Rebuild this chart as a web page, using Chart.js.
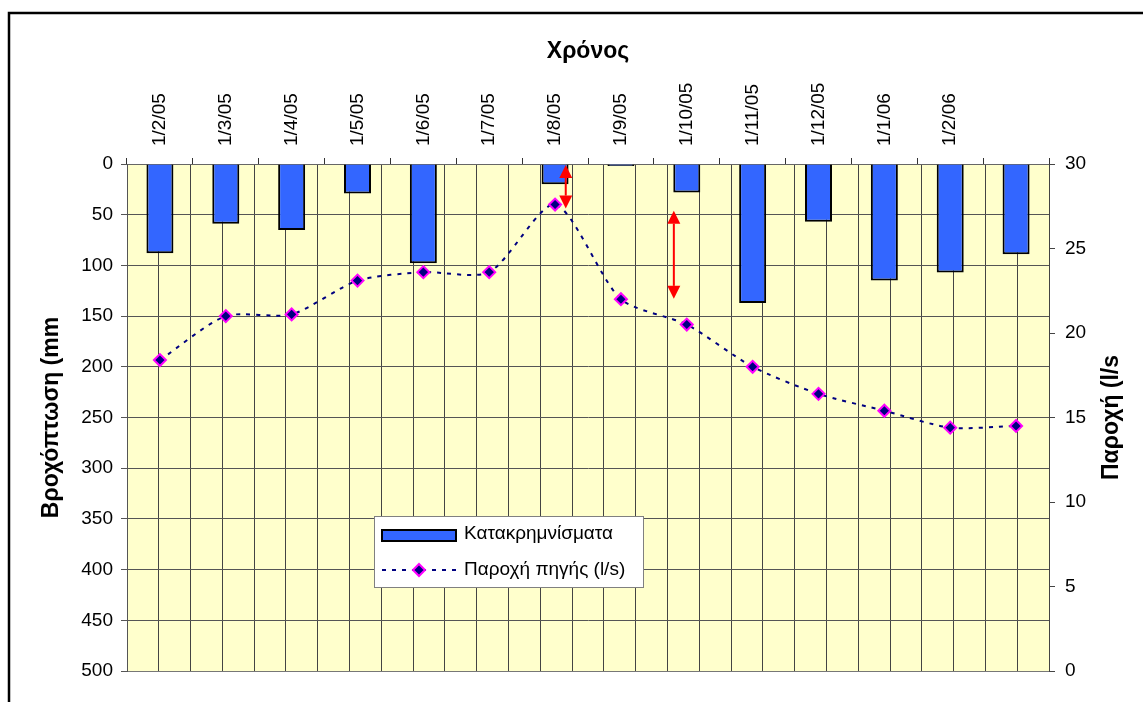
<!DOCTYPE html>
<html>
<head>
  <title>Βροχόπτωση - Παροχή</title>
  <script src="https://cdn.jsdelivr.net/npm/chart.js"></script>
  <style>body { margin: 0; background: #fff; }</style>
</head>
<body>
  <canvas id="chart" width="1143" height="702"></canvas>

  <script>
const months = ['1/2/05', '1/3/05', '1/4/05', '1/5/05', '1/6/05', '1/7/05', '1/8/05',
                '1/9/05', '1/10/05', '1/11/05', '1/12/05', '1/1/06', '1/2/06', ''];
const rainfall = [88, 59, 65, 29, 98, 0, 20, 2, 28, 137, 57, 115, 107, 89];      // mm
const discharge = [18.4, 21.0, 21.1, 23.1, 23.6, 23.6, 27.6, 22.0, 20.5, 18.0, 16.4, 15.4, 14.4, 14.5]; // l/s

// red double arrows: x in category units, from/to in mm
const arrowAt = [6.15, 7.85];
const arrowFrom = [1, 46];
const arrowTo = [44, 133];

const rainLabel = 'Κατακρημνίσματα';
const flowLabel = 'Παροχή πηγής (l/s)';

Chart.defaults.font.family = '"Liberation Sans", Arial, sans-serif';
Chart.defaults.font.size = 19;
Chart.defaults.color = '#000';

// half-category grid positions
const halfSteps = [];
for (let i = 0; i <= months.length * 2; i++) halfSteps.push(-0.5 + i * 0.5);

function diamond(ctx, x, y, r) {
  ctx.beginPath();
  ctx.moveTo(x, y - r);
  ctx.lineTo(x + r, y);
  ctx.lineTo(x, y + r);
  ctx.lineTo(x - r, y);
  ctx.closePath();
  ctx.fillStyle = '#000080';
  ctx.fill();
  ctx.lineWidth = 2;
  ctx.strokeStyle = '#FF00FF';
  ctx.stroke();
}

const extras = {
  id: 'extras',
  beforeDraw(chart) {
    const { ctx, chartArea: a } = chart;
    ctx.save();
    ctx.fillStyle = '#FFFFCC';
    ctx.fillRect(a.left, a.top, a.right - a.left, a.bottom - a.top);
    ctx.strokeStyle = '#000';
    ctx.lineWidth = 2.5;
    ctx.strokeRect(9, 13, chart.width + 20, chart.height + 20);
    ctx.restore();
  },
  afterDatasetsDraw(chart) {
    const { ctx } = chart;
    const xs = chart.scales.xg, ys = chart.scales.y;
    ctx.save();
    ctx.strokeStyle = ctx.fillStyle = '#FF0000';
    ctx.lineWidth = 2;
    arrowAt.forEach((c, i) => {
      const px = xs.getPixelForValue(c);
      const y0 = ys.getPixelForValue(arrowFrom[i]);
      const y1 = ys.getPixelForValue(arrowTo[i]);
      const hw = 6.5, hl = 13;
      ctx.beginPath();
      ctx.moveTo(px, y0 + hl);
      ctx.lineTo(px, y1 - hl);
      ctx.stroke();
      ctx.beginPath();
      ctx.moveTo(px, y0);
      ctx.lineTo(px + hw, y0 + hl);
      ctx.lineTo(px - hw, y0 + hl);
      ctx.closePath();
      ctx.fill();
      ctx.beginPath();
      ctx.moveTo(px, y1);
      ctx.lineTo(px + hw, y1 - hl);
      ctx.lineTo(px - hw, y1 - hl);
      ctx.closePath();
      ctx.fill();
    });
    ctx.restore();
  },
  afterDraw(chart) {
    const { ctx, chartArea: a } = chart;
    ctx.save();

    // legend box
    const lx = a.left + 247, ly = a.top + 352, lw = 269, lh = 71;
    ctx.fillStyle = '#fff';
    ctx.fillRect(lx, ly, lw, lh);
    ctx.strokeStyle = '#808080';
    ctx.lineWidth = 1;
    ctx.strokeRect(lx + 0.5, ly + 0.5, lw, lh);

    ctx.fillStyle = '#3366FF';
    ctx.fillRect(lx + 8, ly + 14, 74, 11);
    ctx.strokeStyle = '#000';
    ctx.lineWidth = 2;
    ctx.strokeRect(lx + 8, ly + 14, 74, 11);

    ctx.beginPath();
    ctx.setLineDash([4, 6]);
    ctx.strokeStyle = '#000080';
    ctx.moveTo(lx + 8, ly + 54);
    ctx.lineTo(lx + 82, ly + 54);
    ctx.stroke();
    ctx.setLineDash([]);
    diamond(ctx, lx + 45, ly + 54, 6);

    ctx.fillStyle = '#000';
    ctx.font = '19px "Liberation Sans", Arial, sans-serif';
    ctx.textBaseline = 'middle';
    ctx.textAlign = 'left';
    ctx.fillText(rainLabel, lx + 90, ly + 18);
    ctx.fillText(flowLabel, lx + 90, ly + 54);

    // right axis title, reading upwards
    ctx.translate(1112, (a.top + a.bottom) / 2);
    ctx.rotate(-Math.PI / 2);
    ctx.font = 'bold 23px "Liberation Sans", Arial, sans-serif';
    ctx.textAlign = 'center';
    ctx.fillText('Παροχή (l/s', 0, 0);
    ctx.restore();
  }
};

new Chart(document.getElementById('chart'), {
  type: 'bar',
  data: {
    labels: months,
    datasets: [
      {
        type: 'line',
        label: flowLabel,
        data: discharge,
        xAxisID: 'x',
        yAxisID: 'y1',
        order: 0,
        borderColor: '#000080',
        borderWidth: 2,
        borderDash: [4, 6],
        tension: 0.25,
        pointStyle: 'rectRot',
        pointRadius: 6,
        pointBackgroundColor: '#000080',
        pointBorderColor: '#FF00FF',
        pointBorderWidth: 2
      },
      {
        label: rainLabel,
        data: rainfall,
        xAxisID: 'x',
        yAxisID: 'y',
        order: 1,
        backgroundColor: '#3366FF',
        borderColor: '#000',
        borderWidth: 2,
        barPercentage: 0.41,
        categoryPercentage: 1
      }
    ]
  },
  options: {
    responsive: false,
    animation: false,
    layout: { padding: 0 },
    plugins: {
      legend: { display: false },
      tooltip: { enabled: false }
    },
    scales: {
      x: {
        type: 'category',
        position: 'top',
        offset: true,
        grid: { offset: true, drawOnChartArea: false, tickLength: 6, color: '#333' },
        border: { color: '#666' },
        // rotated top labels are pushed left by one line height; put them back on the bar
        ticks: { minRotation: 90, maxRotation: 90, padding: 12, autoSkip: false, labelOffset: 22.8 },
        title: {
          display: true, text: 'Χρόνος',
          font: { size: 23, weight: 'bold' },
          padding: { top: 38, bottom: 0 }
        },
        afterFit(s) { s.height = 164; }
      },
      xg: {
        type: 'linear',
        position: 'bottom',
        min: -0.5,
        max: months.length - 0.5,
        afterBuildTicks(s) { s.ticks = halfSteps.map(v => ({ value: v })); },
        ticks: { display: false },
        grid: { color: '#444', drawTicks: false },
        border: { color: '#777' },
        afterFit(s) { s.height = 31; }
      },
      y: {
        position: 'left',
        reverse: true,
        min: 0,
        max: 500,
        ticks: { stepSize: 50, padding: 8 },
        grid: { color: '#555', tickLength: 6 },
        border: { color: '#555' },
        title: {
          display: true, text: 'Βροχόπτωση (mm',
          font: { size: 23, weight: 'bold' },
          padding: { top: 38, bottom: 0 }
        },
        afterFit(s) { s.width = 127; }
      },
      y1: {
        position: 'right',
        min: 0,
        max: 30,
        ticks: { stepSize: 5, padding: 10 },
        grid: { drawOnChartArea: false, tickLength: 6, color: '#444' },
        border: { color: '#444' },
        afterFit(s) { s.width = 94; }
      }
    }
  },
  plugins: [extras]
});
  </script>
</body>
</html>
